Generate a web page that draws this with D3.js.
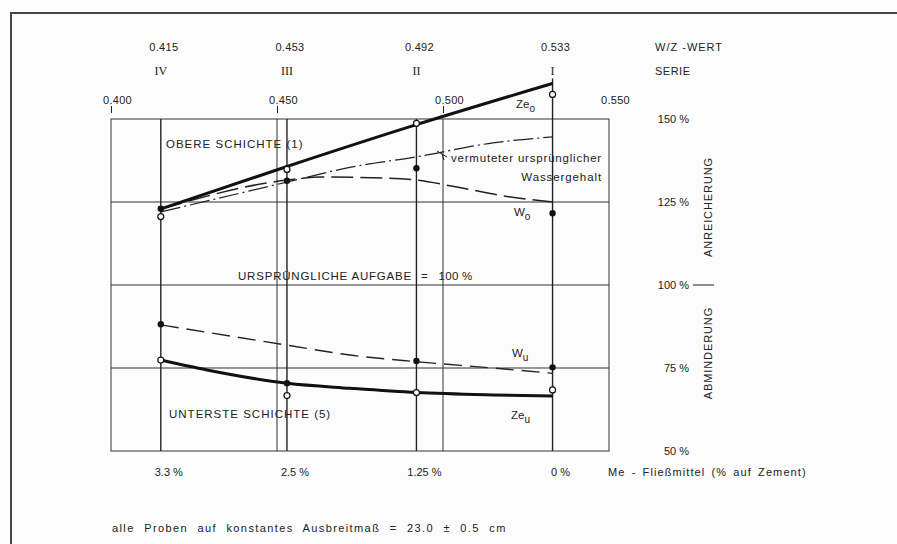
<meta charset="utf-8">
<script src="https://d3js.org/d3.v7.min.js"></script>
<style>
  body { margin: 0; background: #fcfcfc; }
  text { font-family: "Liberation Sans", Arial, sans-serif; fill: #222; }
</style>
<div id="chart"></div>
<script>

// ---- data ----
var wzTicks = [0.400, 0.450, 0.500, 0.550];
var wzTickLabels = ["0.400", "0.450", "0.500", "0.550"];
var serieWz = [0.415, 0.453, 0.492, 0.533];
var serieWzLabels = ["0.415", "0.453", "0.492", "0.533"];
var serieNames = ["IV", "III", "II", "I"];
var fliessmittel = ["3.3 %", "2.5 %", "1.25 %", "0 %"];
var pctTicks = [150, 125, 100, 75, 50];
var pctLabels = ["150 %", "125 %", "100 %", "75 %", "50 %"];

// upper layer: cement enrichment (Ze_o), water (W_o), presumed original water
var zeOLine = [[0.415, 122.9], [0.453, 135.7], [0.492, 148.3], [0.533, 160.7]];
var wOLine = [[0.415, 122.9], [0.453, 131.6], [0.4634, 132.5], [0.4827, 132.2], [0.492, 131.6], [0.5042, 129.5], [0.5204, 126.5], [0.533, 125.0]];
var wOrigLine = [[0.415, 122.0], [0.453, 131.0], [0.4723, 135.5], [0.492, 138.6], [0.515, 142.8], [0.533, 144.6]];
// lower layer
var wULine = [[0.415, 88.0], [0.453, 81.9], [0.472, 78.9], [0.492, 76.9], [0.515, 75.0], [0.533, 73.4]];
var zeULine = [[0.415, 77.4], [0.4289, 74.4], [0.453, 70.4], [0.472, 68.9], [0.492, 67.6], [0.515, 66.9], [0.533, 66.6]];

// measured points
var zeOpen = [120.6, 134.8, 148.7, 157.4, 77.4, 66.7, 67.6, 68.4];
var wFilled = [123.0, 131.4, 135.2, 121.6, 88.2, 70.4, 77.1, 75.2];

var width = 897, height = 544;

var svg = d3.select("#chart")
  .append("svg")
    .attr("width", width)
    .attr("height", height);

svg.append("rect").attr("width", width).attr("height", height).attr("fill", "#fcfcfc");

// outer drawing frame
svg.append("path")
  .attr("d", "M11,544 V13 H897")
  .attr("fill", "none").attr("stroke", "#444").attr("stroke-width", 2);

var x = d3.scaleLinear().domain([0.400, 0.550]).range([111, 609]);
var y = d3.scaleLinear().domain([50, 150]).range([451, 119]);

var ink = "#222";

// plot frame
svg.append("rect")
  .attr("x", x(0.400)).attr("y", y(150))
  .attr("width", x(0.550) - x(0.400)).attr("height", y(50) - y(150))
  .attr("fill", "none").attr("stroke", "#333").attr("stroke-width", 1);

// horizontal grid
svg.append("g").selectAll("line")
  .data([125, 100, 75]).enter().append("line")
    .attr("x1", x(0.400)).attr("x2", x(0.550))
    .attr("y1", function(d){ return y(d); }).attr("y2", function(d){ return y(d); })
    .attr("stroke", "#333").attr("stroke-width", 1);

// vertical grid at 0.450, 0.500
svg.append("g").selectAll("line")
  .data([0.450, 0.500]).enter().append("line")
    .attr("x1", function(d){ return x(d); }).attr("x2", function(d){ return x(d); })
    .attr("y1", y(150)).attr("y2", y(50))
    .attr("stroke", "#333").attr("stroke-width", 1);

// series lines
svg.append("g").selectAll("line")
  .data(serieWz).enter().append("line")
    .attr("x1", function(d){ return x(d); }).attr("x2", function(d){ return x(d); })
    .attr("y1", function(d, i){ return i == 3 ? y(162.2) : y(150); })
    .attr("y2", y(50))
    .attr("stroke", ink).attr("stroke-width", 1.4);

// top W/Z axis: ticks
var topAxis = d3.axisTop(x).tickValues(wzTicks).tickSize(7).tickFormat(function(d, i){ return wzTickLabels[i]; });
var ga = svg.append("g").attr("transform", "translate(0,113)").call(topAxis);
ga.select(".domain").remove();
ga.selectAll(".tick line").attr("stroke", ink).attr("stroke-width", 1)
  .attr("display", function(d){ return d > 0.52 ? "none" : null; });
ga.selectAll(".tick text")
  .attr("x", 6).attr("y", -9)
  .style("font-family", "Liberation Sans, Arial, sans-serif")
  .style("font-size", "11px").style("letter-spacing", "0.3px").attr("fill", ink);

// W/Z values and series names
svg.append("g").selectAll("text")
  .data(serieWz).enter().append("text")
    .attr("x", function(d){ return x(d) + 3; }).attr("y", 51)
    .attr("text-anchor", "middle").style("font-size", "11px").style("letter-spacing", "0.3px")
    .text(function(d, i){ return serieWzLabels[i]; });
svg.append("g").selectAll("text")
  .data(serieWz).enter().append("text")
    .attr("x", function(d){ return x(d); }).attr("y", 75)
    .attr("text-anchor", "middle")
    .style("font-family", "Liberation Serif, serif").style("font-size", "12px")
    .text(function(d, i){ return serieNames[i]; });
svg.append("text").attr("x", 655).attr("y", 51).style("font-size", "11px").style("letter-spacing", "1px").text("W/Z -WERT");
svg.append("text").attr("x", 655).attr("y", 75).style("font-size", "11px").style("letter-spacing", "0.5px").text("SERIE");

// right percent labels
svg.append("g").selectAll("text")
  .data(pctTicks).enter().append("text")
    .attr("x", 689).attr("y", function(d){ return y(d) + 4; })
    .attr("text-anchor", "end").style("font-size", "11px")
    .text(function(d, i){ return pctLabels[i]; });
svg.append("line").attr("x1", 693).attr("x2", 714).attr("y1", y(100)).attr("y2", y(100))
  .attr("stroke", ink).attr("stroke-width", 1);
svg.append("text").attr("transform", "translate(712," + y(123.5) + ") rotate(-90)")
  .attr("text-anchor", "middle").style("font-size", "11px").style("letter-spacing", "0.9px").text("ANREICHERUNG");
svg.append("text").attr("transform", "translate(712," + y(79.5) + ") rotate(-90)")
  .attr("text-anchor", "middle").style("font-size", "11px").style("letter-spacing", "0.9px").text("ABMINDERUNG");

// bottom labels
svg.append("g").selectAll("text")
  .data(serieWz).enter().append("text")
    .attr("x", function(d){ return x(d) + 8; }).attr("y", 476)
    .attr("text-anchor", "middle").style("font-size", "11px")
    .text(function(d, i){ return fliessmittel[i]; });
svg.append("text").attr("x", 608).attr("y", 476).style("font-size", "11px")
  .style("letter-spacing", "1.1px").style("word-spacing", "2px")
  .text("Me - Fließmittel (% auf Zement)");
svg.append("text").attr("x", 112).attr("y", 532).style("font-size", "11px")
  .style("letter-spacing", "1.4px").style("word-spacing", "5px")
  .text("alle Proben auf konstantes Ausbreitmaß = 23.0 ± 0.5 cm");

// curves
var line = d3.line()
  .x(function(d){ return x(d[0]); })
  .y(function(d){ return y(d[1]); })
  .curve(d3.curveMonotoneX);

svg.append("path").datum(wOrigLine).attr("d", line)
  .attr("fill", "none").attr("stroke", ink).attr("stroke-width", 1.2)
  .attr("stroke-dasharray", "20,4,2,4");
svg.append("path").datum(wOLine).attr("d", line)
  .attr("fill", "none").attr("stroke", ink).attr("stroke-width", 1.5)
  .attr("stroke-dasharray", "22,7");
svg.append("path").datum(zeOLine).attr("d", line)
  .attr("fill", "none").attr("stroke", "#111").attr("stroke-width", 3);
svg.append("path").datum(wULine).attr("d", line)
  .attr("fill", "none").attr("stroke", ink).attr("stroke-width", 1.4)
  .attr("stroke-dasharray", "18,8");
svg.append("path").datum(zeULine).attr("d", line)
  .attr("fill", "none").attr("stroke", "#111").attr("stroke-width", 3);

// markers
svg.append("g").selectAll("circle")
  .data(wFilled).enter().append("circle")
    .attr("cx", function(d, i){ return x(serieWz[i % 4]); })
    .attr("cy", function(d){ return y(d); })
    .attr("r", 3.2).attr("fill", "#111");
svg.append("g").selectAll("circle")
  .data(zeOpen).enter().append("circle")
    .attr("cx", function(d, i){ return x(serieWz[i % 4]); })
    .attr("cy", function(d){ return y(d); })
    .attr("r", 3).attr("fill", "#fff").attr("stroke", "#111").attr("stroke-width", 1.2);

// leader to the annotation
svg.append("path").attr("d", "M437,151 L447,157 M442,154 L444,160")
  .attr("fill", "none").attr("stroke", ink).attr("stroke-width", 1);

// annotations inside plot
function label(tx, ty, txt, sub, extra) {
  var t = svg.append("text").attr("x", tx).attr("y", ty).style("font-size", "11.5px")
    .style("white-space", "pre");
  if (extra) t.style("letter-spacing", extra);
  t.append("tspan").text(txt);
  if (sub) t.append("tspan").attr("dy", 4).style("font-size", "10px").text(sub);
  return t;
}
label(166, 148, "OBERE SCHICHTE (1)", null, "1px");
label(238, 280, "URSPRÜNGLICHE AUFGABE", null, "0.8px");
label(421, 280, "=   100 %", null, "0.3px");
label(169, 418, "UNTERSTE SCHICHTE (5)", null, "1px");
label(516, 108, "Ze", "o");
label(514, 216, "W", "o");
label(512, 357, "W", "u");
label(511, 419, "Ze", "u");
svg.append("text").attr("x", 602).attr("y", 162).attr("text-anchor", "end").style("font-size", "11.5px")
  .style("letter-spacing", "0.8px").text("vermuteter ursprünglicher");
svg.append("text").attr("x", 602).attr("y", 181).attr("text-anchor", "end").style("font-size", "11.5px")
  .style("letter-spacing", "0.9px").text("Wassergehalt");

</script>
